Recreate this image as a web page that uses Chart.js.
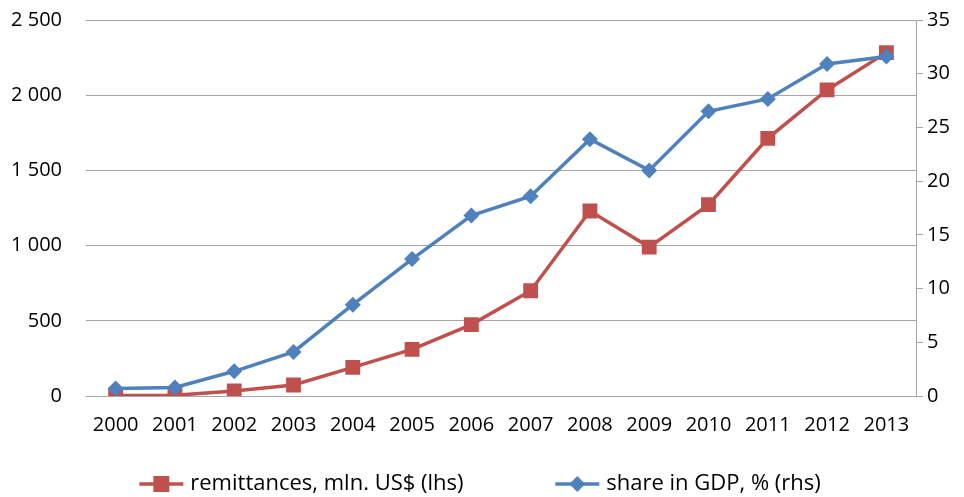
<!DOCTYPE html>
<html>
<head>
<meta charset="utf-8">
<script src="https://cdn.jsdelivr.net/npm/chart.js@4/dist/chart.umd.min.js"></script>
<style>
  html, body { margin: 0; padding: 0; background: #fff; }
  #wrap { width: 964px; height: 497px; }
</style>
</head>
<body>
<div id="wrap"><canvas id="chart"></canvas></div>
<script>
// data
const years = ['2000', '2001', '2002', '2003', '2004', '2005', '2006',
  '2007', '2008', '2009', '2010', '2011', '2012', '2013'];
const remittances = [3, 5, 33, 73, 190, 310, 475, 700, 1230, 990, 1272, 1713, 2035, 2283];
const shareGdp = [0.7, 0.8, 2.3, 4.1, 8.5, 12.75, 16.8, 18.6, 23.9, 21.0, 26.5, 27.65, 30.9, 31.6];
const leftTicks = [0, 500, 1000, 1500, 2000, 2500];
const rightTicks = [0, 5, 10, 15, 20, 25, 30, 35];

const RED = '#c0504d';
const BLUE = '#4f81bd';
const GRID = '#a6a6a6';
const FONT = 'Open Sans';

const fmt = v => String(v).replace(/\B(?=(\d{3})+(?!\d))/g, ' ');

// small legend swatch: line with the marker on it
function swatch(color, style) {
  const c = document.createElement('canvas');
  c.width = 46; c.height = 18;
  const g = c.getContext('2d');
  g.strokeStyle = color; g.lineWidth = 3.5;
  g.beginPath(); g.moveTo(1, 9); g.lineTo(45, 9); g.stroke();
  g.fillStyle = color;
  if (style === 'rect') {
    g.fillRect(15, 1, 16, 16);
  } else {
    g.beginPath(); g.moveTo(23, 1); g.lineTo(31, 9); g.lineTo(23, 17); g.lineTo(15, 9);
    g.closePath(); g.fill();
  }
  return c;
}
const swatches = [swatch(RED, 'rect'), swatch(BLUE, 'diamond')];
// the two legend items sit far apart in the original
const gap = '\u00a0'.repeat(15);

new Chart(document.getElementById('chart'), {
  type: 'line',
  data: {
    labels: years,
    datasets: [
      {
        label: 'remittances, mln. US$ (lhs)',
        data: remittances,
        yAxisID: 'y',
        borderColor: RED,
        backgroundColor: RED,
        borderWidth: 3.5,
        pointStyle: 'rect',
        pointRadius: 10.5,
        pointBorderWidth: 0,
        tension: 0,
        order: 2
      },
      {
        label: 'share in GDP, % (rhs)',
        data: shareGdp,
        yAxisID: 'y1',
        borderColor: BLUE,
        backgroundColor: BLUE,
        borderWidth: 3.5,
        pointStyle: 'rectRot',
        pointRadius: 8,
        pointBorderWidth: 0,
        tension: 0,
        order: 1
      }
    ]
  },
  options: {
    responsive: true,
    maintainAspectRatio: false,
    animation: false,
    layout: { padding: { top: 20, left: 0, right: 0, bottom: -8 } },
    plugins: {
      tooltip: { enabled: false },
      legend: {
        position: 'bottom',
        labels: {
          usePointStyle: true,
          pointStyleWidth: 36,
          padding: 10,
          color: '#000',
          font: { family: FONT, size: 22 },
          generateLabels: chart => chart.data.datasets.map((ds, i) => ({
            text: i === 0 ? ds.label + gap : ds.label,
            pointStyle: swatches[i],
            fillStyle: ds.borderColor,
            strokeStyle: ds.borderColor,
            lineWidth: 0,
            datasetIndex: i,
            fontColor: '#000'
          }))
        }
      }
    },
    scales: {
      x: {
        offset: true,
        grid: { display: false, drawTicks: false },
        border: { display: true, color: GRID },
        ticks: { color: '#000', font: { family: FONT, size: 20 }, padding: 17, maxRotation: 0, autoSkip: false },
        afterFit: s => { s.height = 67; }
      },
      y: {
        position: 'left',
        min: 0, max: 2500,
        afterBuildTicks: axis => { axis.ticks = leftTicks.map(v => ({ value: v })); },
        // invisible tick marks give the gap between labels and plot
        grid: { color: GRID, drawTicks: true, tickLength: 24, tickColor: 'rgba(0,0,0,0)' },
        border: { display: false },
        ticks: { color: '#000', font: { family: FONT, size: 20 }, padding: 0, callback: v => fmt(v) },
        afterFit: s => { s.width = 86; }
      },
      y1: {
        position: 'right',
        min: 0, max: 35,
        afterBuildTicks: axis => { axis.ticks = rightTicks.map(v => ({ value: v })); },
        grid: { drawOnChartArea: false, color: GRID, tickLength: 7 },
        border: { display: true, color: GRID },
        ticks: { color: '#000', font: { family: FONT, size: 20 }, padding: 4 },
        afterFit: s => { s.width = 48; }
      }
    }
  }
});
</script>
</body>
</html>
